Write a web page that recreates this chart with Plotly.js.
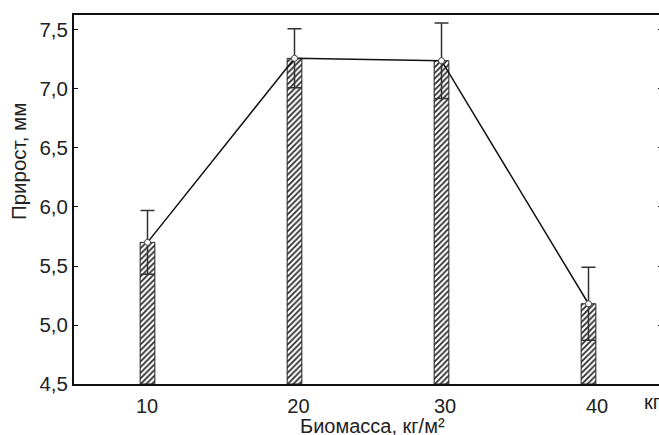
<!DOCTYPE html>
<html>
<head>
<meta charset="utf-8">
<script src="https://cdn.plot.ly/plotly-3.0.1.min.js"></script>
<style>
html,body{margin:0;padding:0;overflow:hidden;background:#fff;}
#chart{width:662px;height:435px;}
</style>
</head>
<body>
<div id="chart"></div>
<script>
// Data
const biomass = [10, 20, 30, 40];            // кг/м²
const growth = [5.70, 7.26, 7.24, 5.18];      // Прирост, мм
const growthErr = [0.27, 0.25, 0.32, 0.31];
const yTicks = [4.5, 5.0, 5.5, 6.0, 6.5, 7.0, 7.5];
const xTickLabels = ['10', '20', '30', '40'];
// in the original the tick labels sit slightly right of the bars
const xTickPos = [9.97, 20.27, 30.24, 40.58];

const base = 4.5;
const FONT = '"Liberation Sans", Arial, sans-serif';
const TXT = '#222';

const barTrace = {
  type: 'bar',
  x: biomass,
  y: growth.map(v => v - base),
  base: base,
  width: 1.0,
  marker: {
    color: '#ffffff',
    line: {color: '#222', width: 1},
    pattern: {shape: '/', fgcolor: '#2a2a2a', bgcolor: '#ffffff', size: 4, solidity: 0.45}
  },
  error_y: {type: 'data', array: growthErr, visible: true, color: '#333', thickness: 1.5, width: 7},
  hoverinfo: 'skip',
  showlegend: false
};

const lineTrace = {
  type: 'scatter',
  mode: 'lines+markers',
  x: biomass,
  y: growth,
  line: {color: '#111', width: 1.5},
  marker: {size: 6, color: '#ffffff', line: {color: '#444', width: 1}},
  showlegend: false
};

const layout = {
  width: 662,
  height: 435,
  margin: {l: 74, r: 0, t: 15, b: 51},
  paper_bgcolor: '#ffffff',
  plot_bgcolor: '#ffffff',
  separators: ',.',
  font: {family: FONT, color: TXT},
  xaxis: {
    range: [5, 45],
    tickvals: xTickPos,
    ticktext: xTickLabels,
    ticks: '',
    ticklabelstandoff: 3,
    showgrid: false,
    zeroline: false,
    showline: true,
    linecolor: '#111',
    linewidth: 2,
    mirror: true,
    tickfont: {family: FONT, size: 20, color: TXT}
  },
  yaxis: {
    range: [4.5, 7.627],
    tickvals: yTicks,
    tickformat: '.1f',
    ticks: 'inside',
    ticklen: 4,
    tickcolor: '#111',
    showgrid: false,
    zeroline: false,
    showline: true,
    linecolor: '#111',
    linewidth: 2,
    mirror: 'ticks',
    tickfont: {family: FONT, size: 20.5, color: TXT}
  },
  annotations: [
    {
      xref: 'paper', yref: 'paper',
      x: 0.507, y: -0.114,
      xanchor: 'center', yanchor: 'middle',
      text: 'Биомасса, кг/м²', showarrow: false,
      font: {family: FONT, size: 20, color: TXT}
    },
    {
      xref: 'paper', yref: 'paper',
      x: -0.0952, y: 0.6016,
      xanchor: 'center', yanchor: 'middle',
      textangle: -90,
      text: 'Прирост, мм', showarrow: false,
      font: {family: FONT, size: 20.5, color: TXT}
    },
    {
      xref: 'paper', yref: 'paper',
      x: 0.966, y: -0.05,
      xanchor: 'left', yanchor: 'middle',
      text: 'кг', showarrow: false,
      font: {family: FONT, size: 20, color: TXT}
    }
  ],
  bargap: 0
};

Plotly.newPlot('chart', [barTrace, lineTrace], layout, {displayModeBar: false, staticPlot: true});
</script>
</body>
</html>
